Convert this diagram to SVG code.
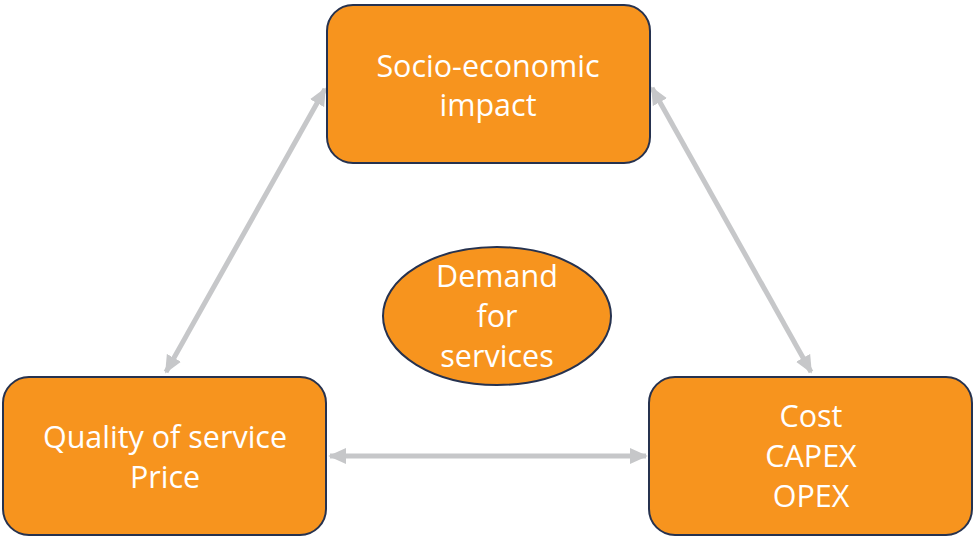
<svg xmlns="http://www.w3.org/2000/svg" width="974" height="538" viewBox="0 0 974 538">
<defs>
<style>
.node{fill:#f7941e;stroke:#26324f;stroke-width:2}
.lbl{fill:#ffffff;font-family:"Open Sans","Liberation Sans",sans-serif;font-size:30.5px;text-anchor:middle}
.conn{stroke:#c6c7c9;stroke-width:5;fill:none;marker-start:url(#ah);marker-end:url(#ah)}
</style>
<marker id="ah" viewBox="0 0 10 10" refX="9" refY="5" markerWidth="3.6" markerHeight="3.6" orient="auto-start-reverse" markerUnits="strokeWidth">
<path d="M0,0.5 L10,5 L0,9.5 Z" fill="#c6c7c9"/>
</marker>
</defs>
<rect width="974" height="538" fill="#ffffff"/>
<g id="connectors">
<line class="conn" x1="166" y1="372" x2="325" y2="89"/>
<line class="conn" x1="652" y1="88" x2="811" y2="372"/>
<line class="conn" x1="330" y1="456" x2="646" y2="456"/>
</g>
<g id="socio">
<rect class="node" x="327" y="5" width="323" height="158" rx="26"/>
<text class="lbl" x="488" y="77">Socio-economic</text>
<text class="lbl" x="488" y="116">impact</text>
</g>
<g id="quality">
<rect class="node" x="3" y="377" width="323" height="158" rx="26"/>
<text class="lbl" x="165" y="448">Quality of service</text>
<text class="lbl" x="165" y="488">Price</text>
</g>
<g id="cost">
<rect class="node" x="649" y="377" width="323" height="158" rx="26"/>
<text class="lbl" x="811" y="427">Cost</text>
<text class="lbl" x="811" y="467">CAPEX</text>
<text class="lbl" x="811" y="507">OPEX</text>
</g>
<g id="demand">
<ellipse class="node" cx="497" cy="316" rx="114" ry="69"/>
<text class="lbl" x="497" y="287">Demand</text>
<text class="lbl" x="497" y="327">for</text>
<text class="lbl" x="497" y="367">services</text>
</g>
</svg>
